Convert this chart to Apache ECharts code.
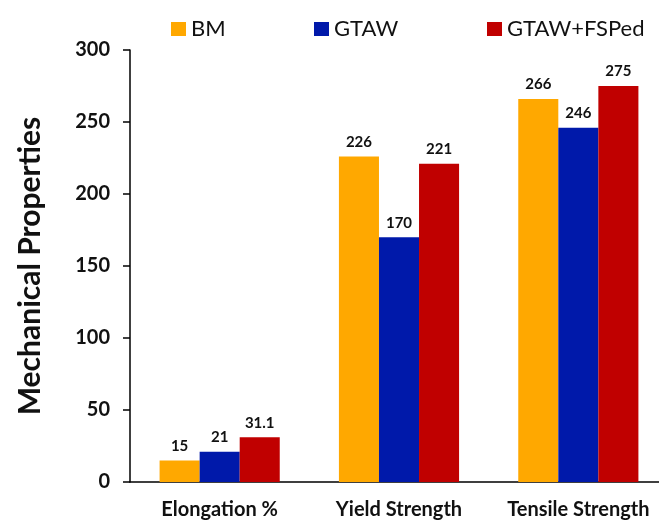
<!DOCTYPE html>
<html>
<head>
<meta charset="utf-8">
<script src="https://cdn.jsdelivr.net/npm/echarts@6/dist/echarts.min.js"></script>
<style>
  html, body { margin: 0; padding: 0; background: #fff; overflow: hidden; }
  /* the plot runs slightly past the right edge of the page */
  #chart { width: 672px; height: 523px; }
</style>
</head>
<body>
<div id="chart"></div>
<script>
// Mechanical properties of base metal, GTAW joint and GTAW+FSP treated joint
const categories = ['Elongation %', 'Yield Strength', 'Tensile Strength'];
const seriesNames = ['BM', 'GTAW', 'GTAW+FSPed'];
const bmValues = [15, 226, 266];
const gtawValues = [21, 170, 246];
const fspedValues = [31.1, 221, 275];
const yTicks = [0, 50, 100, 150, 200, 250, 300];

const colors = ['#FFA800', '#0019AA', '#C00000'];
const fontFamily = 'Lato, "Open Sans", sans-serif';
const legendLefts = [166, 309, 482];

const chart = echarts.init(document.getElementById('chart'));

function barSeries(name, data, color) {
  return {
    name: name,
    type: 'bar',
    data: data,
    barGap: '0%',
    barCategoryGap: '33%',
    itemStyle: { color: color },
    label: {
      show: true,
      position: 'top',
      distance: 7,
      color: '#111',
      fontFamily: fontFamily,
      fontWeight: 'bold',
      fontSize: 15
    }
  };
}

// one legend entry per series, each placed on its own
const legends = seriesNames.map((name, i) => ({
  data: [name],
  left: legendLefts[i],
  top: 13,
  itemWidth: 15,
  itemHeight: 14,
  icon: 'rect',
  textStyle: { fontFamily: fontFamily, fontSize: 22, color: '#111' }
}));

chart.setOption({
  animation: false,
  backgroundColor: '#fff',
  color: colors,
  legend: legends,
  grid: { left: 130, width: 538, top: 50, bottom: 41, containLabel: false },
  xAxis: {
    type: 'category',
    data: categories,
    axisLine: { lineStyle: { color: '#000', width: 1.5 } },
    axisTick: { show: false },
    axisLabel: {
      interval: 0,
      margin: 18,
      color: '#111',
      fontFamily: fontFamily,
      fontWeight: 'bold',
      fontSize: 20
    }
  },
  yAxis: {
    type: 'value',
    min: yTicks[0],
    max: yTicks[yTicks.length - 1],
    interval: 50,
    name: 'Mechanical Properties',
    nameLocation: 'middle',
    nameGap: 85,
    nameTextStyle: {
      fontFamily: fontFamily,
      fontWeight: 'bold',
      fontSize: 30,
      color: '#111'
    },
    axisLine: { show: true, lineStyle: { color: '#000', width: 1.5 } },
    axisTick: { show: true, length: 7, lineStyle: { color: '#000', width: 1.5 } },
    splitLine: { show: false },
    axisLabel: {
      margin: 20,
      color: '#111',
      fontFamily: fontFamily,
      fontWeight: 'bold',
      fontSize: 20
    }
  },
  series: [
    barSeries(seriesNames[0], bmValues, colors[0]),
    barSeries(seriesNames[1], gtawValues, colors[1]),
    barSeries(seriesNames[2], fspedValues, colors[2])
  ]
});
</script>
</body>
</html>
